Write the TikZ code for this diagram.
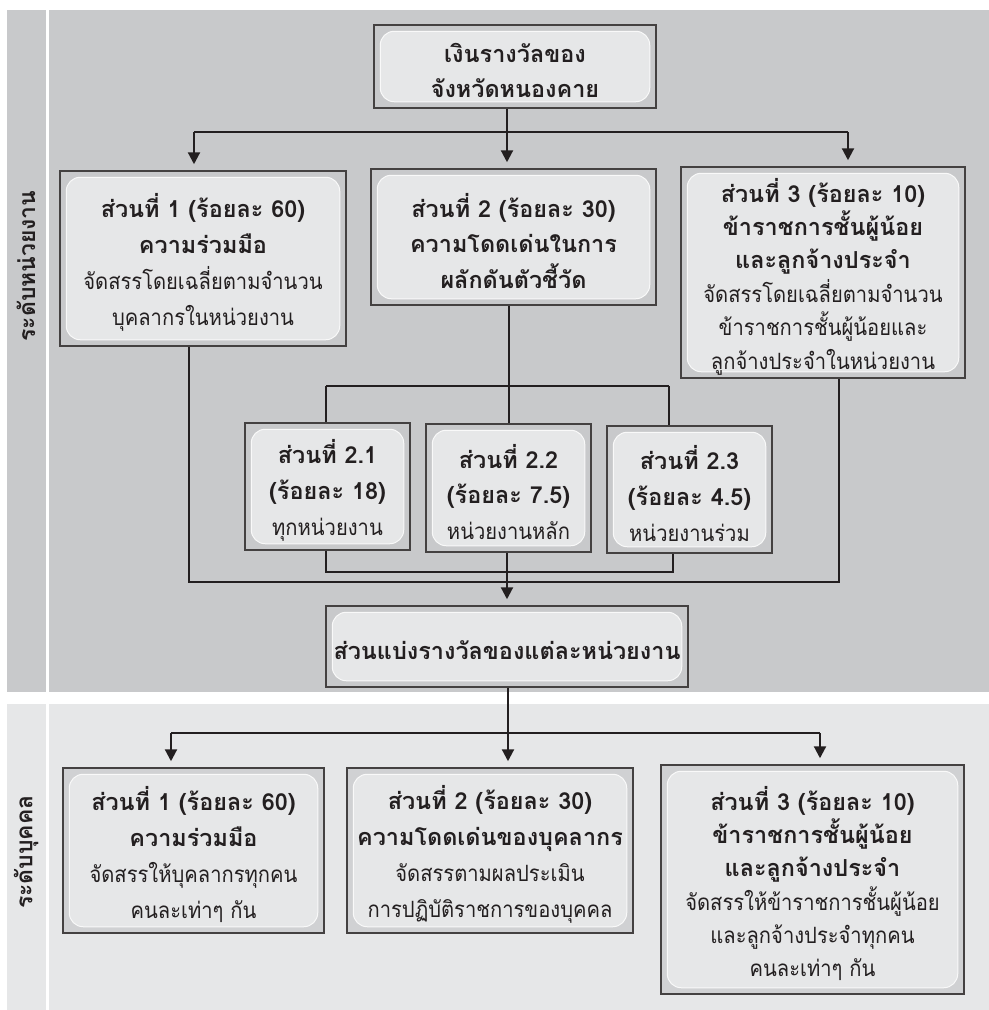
\documentclass[tikz,border=0pt]{standalone}
\usepackage{fontspec}
\newfontfamily\thai[Script=Thai]{Loma}
\newfontfamily\thainarrow[Script=Thai,FakeStretch=0.9]{Loma}
\usetikzlibrary{arrows.meta,fit}

\definecolor{panelA}{HTML}{C8C9CB}
\definecolor{panelB}{HTML}{E6E7E8}
\definecolor{innerfill}{HTML}{E6E7E8}
\definecolor{boxB}{HTML}{D0D1D3}
\definecolor{ink}{HTML}{231F20}

\tikzset{
  outerA/.style={draw=ink!85, line width=1.5bp, fill=panelA, inner sep=0pt},
  outerB/.style={outerA, fill=boxB},
  innerbox/.style={draw=white!75!innerfill, line width=1bp, fill=innerfill, rounded corners=14bp},
  txt/.style={align=center, font=\thainarrow\fontsize{22.5}{36}\selectfont, text=ink, inner sep=0pt, yshift=-4bp},
  tight/.style={font=\thainarrow\fontsize{22.5}{33.5}\selectfont},
  level/.style={rotate=90, font=\thai\bfseries\fontsize{23}{26}\selectfont, text=ink},
  link/.style={draw=ink, line width=2.2bp},
  arrow/.style={link, -{Triangle[width=12bp,length=12bp]}, shorten >=6bp},
}

% framed box: style, name, corners (x1,y1) (x2,y2), text; text options via \boxtextopts
\newcommand\boxtextopts{}
\newcommand\tierbox[7]{%
  \node[#1, fit={(#3,#4) (#5,#6)}] (#2) {};
  \path[innerbox] ([xshift=7bp,yshift=-7bp]#2.north west) rectangle ([xshift=-7bp,yshift=7bp]#2.south east);
  \node[txt,\boxtextopts] (#2-text) at (#2.center) {#7};
}
\newcommand\hd[1]{{\thai\fontsize{23.5}{36}\selectfont\bfseries #1}}

\begin{document}
\begin{tikzpicture}[x=1bp,y=-1bp]
\useasboundingbox (0,0) rectangle (989,1010);

% two level bands with their side strips
\fill[panelA] (7,10) rectangle (989,692);
\fill[white] (45.7,10) rectangle (48.7,692);
\fill[panelB] (7,704) rectangle (989,1010);
\fill[white] (45.7,704) rectangle (48.7,1010);

\node[level] (lvlunit) at (26,266) {ระดับหน่วยงาน};
\node[level] (lvlperson) at (26,852) {ระดับบุคคล};

% unit level
\tierbox{outerA}{top}{374}{25}{656}{108}{\hd{เงินรางวัลของ}\\\hd{จังหวัดหนองคาย}}
\tierbox{outerA}{p1}{60}{171}{346}{346}{\hd{ส่วนที่ 1 (ร้อยละ 60)}\\\hd{ความร่วมมือ}\\จัดสรรโดยเฉลี่ยตามจำนวน\\บุคลากรในหน่วยงาน}
\tierbox{outerA}{p2}{371}{169}{656}{305}{\hd{ส่วนที่ 2 (ร้อยละ 30)}\\\hd{ความโดดเด่นในการ}\\\hd{ผลักดันตัวชี้วัด}}
\renewcommand\boxtextopts{tight}
\tierbox{outerA}{p3}{681}{167}{965}{378}{\hd{ส่วนที่ 3 (ร้อยละ 10)}\\\hd{ข้าราชการชั้นผู้น้อย}\\\hd{และลูกจ้างประจำ}\\จัดสรรโดยเฉลี่ยตามจำนวน\\ข้าราชการชั้นผู้น้อยและ\\ลูกจ้างประจำในหน่วยงาน}
\renewcommand\boxtextopts{}
\tierbox{outerA}{s21}{245}{423}{410}{550}{\hd{ส่วนที่ 2.1}\\\hd{(ร้อยละ 18)}\\ทุกหน่วยงาน}
\tierbox{outerA}{s22}{426}{424}{591}{552}{\hd{ส่วนที่ 2.2}\\\hd{(ร้อยละ 7.5)}\\หน่วยงานหลัก}
\tierbox{outerA}{s23}{607}{426}{772}{553}{\hd{ส่วนที่ 2.3}\\\hd{(ร้อยละ 4.5)}\\หน่วยงานร่วม}
\tierbox{outerA}{share}{326}{606}{688}{687}{\hd{ส่วนแบ่งรางวัลของแต่ละหน่วยงาน}}

% person level
\tierbox{outerB}{b1}{63}{768}{324}{933}{\hd{ส่วนที่ 1 (ร้อยละ 60)}\\\hd{ความร่วมมือ}\\จัดสรรให้บุคลากรทุกคน\\คนละเท่าๆ กัน}
\tierbox{outerB}{b2}{347}{768}{633}{933}{\hd{ส่วนที่ 2 (ร้อยละ 30)}\\\hd{ความโดดเด่นของบุคลากร}\\จัดสรรตามผลประเมิน\\การปฏิบัติราชการของบุคคล}
\renewcommand\boxtextopts{tight}
\tierbox{outerB}{b3}{661}{765}{964}{994}{\hd{ส่วนที่ 3 (ร้อยละ 10)}\\\hd{ข้าราชการชั้นผู้น้อย}\\\hd{และลูกจ้างประจำ}\\จัดสรรให้ข้าราชการชั้นผู้น้อย\\และลูกจ้างประจำทุกคน\\คนละเท่าๆ กัน}
\renewcommand\boxtextopts{}

% junction points of the connector buses
\coordinate (bus1) at (507,132);
\coordinate (bus1L) at (194,132);
\coordinate (bus1R) at (848,132);
\coordinate (sb) at (509,386);
\coordinate (sbL) at (326,386);
\coordinate (sbR) at (669,386);
\coordinate (cb) at (507,572);
\coordinate (cbL) at (326,572);
\coordinate (cbR) at (673,572);
\coordinate (gbL) at (189,582);
\coordinate (gbR) at (839,582);
\coordinate (lb) at (508,733);
\coordinate (lbL) at (171,733);
\coordinate (lbR) at (820,733);

% prize pool split into three parts
\draw[link] (bus1 |- top.south) -- (bus1);
\draw[link] (bus1L) -- (bus1R);
\draw[arrow] (bus1) -- (bus1 |- p2.north);
\draw[arrow] (bus1L) -- (bus1L |- p1.north);
\draw[arrow] (bus1R) -- (bus1R |- p3.north);

% part 2 split into sub-parts
\draw[link] (sb |- p2.south) -- (sb);
\draw[link] (sbL) -- (sbR);
\draw[link] (sbL) -- (sbL |- s21.north);
\draw[link] (sb) -- (sb |- s22.north);
\draw[link] (sbR) -- (sbR |- s23.north);

% parts gathered into each unit's share
\draw[link] (cbL |- s21.south) -- (cbL) -- (cbR) -- (cbR |- s23.south);
\draw[link] (gbL |- p1.south) -- (gbL) -- (gbR) -- (gbR |- p3.south);
\draw[arrow] (cb |- s22.south) -- (cb |- share.north);

% unit share split among persons
\draw[link] (lb |- share.south) -- (lb);
\draw[link] (lbL) -- (lbR);
\draw[arrow] (lb) -- (lb |- b2.north);
\draw[arrow] (lbL) -- (lbL |- b1.north);
\draw[arrow] (lbR) -- (lbR |- b3.north);
\end{tikzpicture}
\end{document}
